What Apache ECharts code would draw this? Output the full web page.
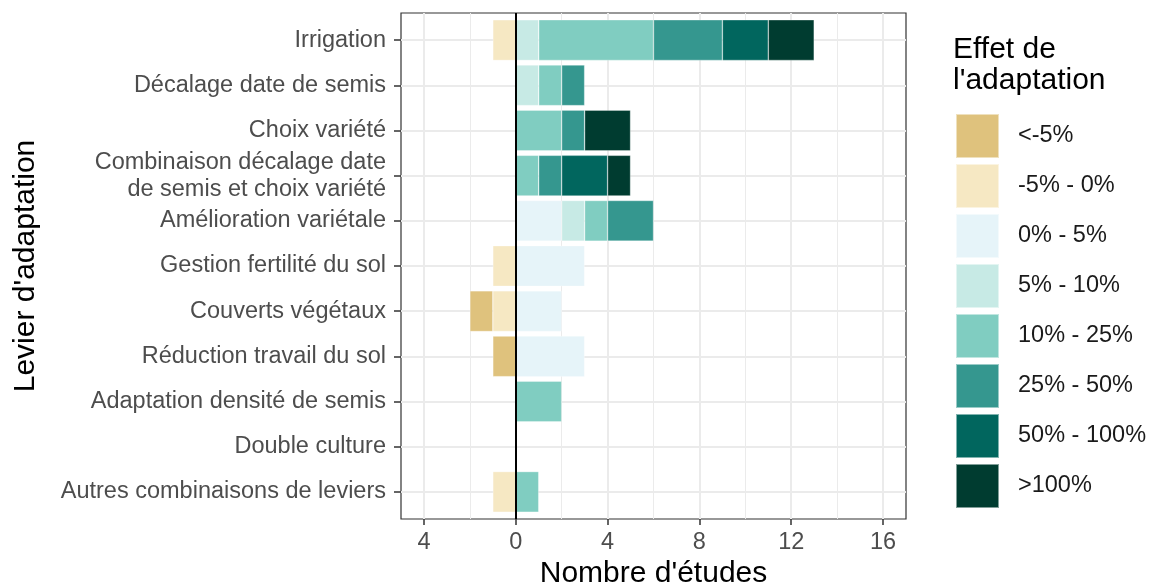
<!DOCTYPE html>
<html>
<head>
<meta charset="utf-8">
<title>Levier d'adaptation</title>
<script src="https://cdn.jsdelivr.net/npm/echarts@6.0.0/dist/echarts.min.js"></script>
<style>
  html, body { margin: 0; padding: 0; background: #fff; }
  #chart { width: 1151px; height: 586px; }
</style>
</head>
<body>
<div id="chart"></div>
<script>
// categories (top to bottom)
const categories = [
  'Irrigation',
  'Décalage date de semis',
  'Choix variété',
  'Combinaison décalage date\nde semis et choix variété',
  'Amélioration variétale',
  'Gestion fertilité du sol',
  'Couverts végétaux',
  'Réduction travail du sol',
  'Adaptation densité de semis',
  'Double culture',
  'Autres combinaisons de leviers'
];

// nombre d'études par classe d'effet (négatif = à gauche de 0)
const effLtMinus5 = [0, 0, 0, 0, 0, 0, -1, -1, 0, 0, 0];
const effMinus5to0 = [-1, 0, 0, 0, 0, -1, -1, 0, 0, 0, -1];
const eff0to5 = [0, 0, 0, 0, 2, 3, 2, 3, 0, 0, 0];
const eff5to10 = [1, 1, 0, 0, 1, 0, 0, 0, 0, 0, 0];
const eff10to25 = [5, 1, 2, 1, 1, 0, 0, 0, 2, 0, 1];
const eff25to50 = [3, 1, 1, 1, 2, 0, 0, 0, 0, 0, 0];
const eff50to100 = [2, 0, 0, 2, 0, 0, 0, 0, 0, 0, 0];
const effGt100 = [2, 0, 2, 1, 0, 0, 0, 0, 0, 0, 0];

const legendLabels = ['<-5%', '-5% - 0%', '0% - 5%', '5% - 10%', '10% - 25%', '25% - 50%', '50% - 100%', '>100%'];
const legendColors = ['#dfc27d', '#f6e8c3', '#e6f4f9', '#c7eae5', '#80cdc1', '#35978f', '#01665e', '#003c30'];

const xTicks = [-4, 0, 4, 8, 12, 16];
const xGrid = [-4, -2, 0, 2, 4, 6, 8, 10, 12, 14, 16];

const FONT = '"Liberation Sans", Arial, sans-serif';

// panel geometry (ggplot style: 0.6 category expansion on each side)
const PANEL_LEFT = 401, PANEL_RIGHT = 906, PANEL_TOP = 13, PANEL_BOTTOM = 519;
const unit = (PANEL_BOTTOM - PANEL_TOP) / (categories.length - 1 + 1.2);
const mainTop = PANEL_TOP + 0.1 * unit;
const mainHeight = categories.length * unit;

function clean(arr) {
  return arr.map(v => (v === 0 ? '-' : v));
}

// stacking order: closest to zero first
const seriesDefs = [
  { name: '-5% - 0%', values: effMinus5to0, color: legendColors[1] },
  { name: '<-5%', values: effLtMinus5, color: legendColors[0] },
  { name: '0% - 5%', values: eff0to5, color: legendColors[2] },
  { name: '5% - 10%', values: eff5to10, color: legendColors[3] },
  { name: '10% - 25%', values: eff10to25, color: legendColors[4] },
  { name: '25% - 50%', values: eff25to50, color: legendColors[5] },
  { name: '50% - 100%', values: eff50to100, color: legendColors[6] },
  { name: '>100%', values: effGt100, color: legendColors[7] }
];

const barSeries = seriesDefs.map(d => ({
  name: d.name,
  type: 'bar',
  stack: 'total',
  xAxisIndex: 0,
  yAxisIndex: 0,
  barCategoryGap: '10%',
  itemStyle: { color: d.color, borderColor: 'rgba(255,255,255,0.5)', borderWidth: 0.6 },
  data: clean(d.values),
  z: 3
}));

const gridLineData = []
  .concat(xGrid.map(v => ({ xAxis: v, lineStyle: { width: v % 4 === 0 ? 2 : 1 } })))
  .concat(categories.map((c, i) => ({ yAxis: i, lineStyle: { width: 2 } })));

const chart = echarts.init(document.getElementById('chart'), null, { renderer: 'canvas' });

chart.setOption({
  animation: false,
  backgroundColor: '#ffffff',
  title: {
    text: "Effet de\nl'adaptation",
    left: 953,
    top: 34,
    padding: 0,
    textStyle: { fontFamily: FONT, fontSize: 30, fontWeight: 'normal', color: '#000', lineHeight: 31 }
  },
  legend: {
    orient: 'vertical',
    left: 955,
    top: 113,
    padding: 0,
    itemWidth: 43,
    itemHeight: 44,
    itemGap: 4,
    icon: 'rect',
    selectedMode: false,
    data: legendLabels,
    textStyle: { fontFamily: FONT, fontSize: 23.5, color: '#1a1a1a', padding: [0, 0, 0, 14] }
  },
  grid: [
    // bars
    {
      left: PANEL_LEFT, width: PANEL_RIGHT - PANEL_LEFT, top: mainTop, height: mainHeight,
      show: false, containLabel: false, outerBoundsMode: 'none'
    },
    // frame + gridlines
    {
      left: PANEL_LEFT, width: PANEL_RIGHT - PANEL_LEFT, top: PANEL_TOP, height: PANEL_BOTTOM - PANEL_TOP,
      show: true, borderColor: '#333333', borderWidth: 1.2, backgroundColor: 'transparent',
      containLabel: false, outerBoundsMode: 'none'
    }
  ],
  xAxis: [
    {
      gridIndex: 0, type: 'value', min: -5, max: 17,
      axisLine: { show: false, onZero: false }, axisTick: { show: false }, axisLabel: { show: false }, splitLine: { show: false }
    },
    {
      gridIndex: 1, type: 'value', min: -5, max: 17,
      axisLine: { show: false, onZero: false },
      axisTick: { show: true, customValues: xTicks, length: 6, lineStyle: { color: '#333', width: 1.5 } },
      axisLabel: {
        customValues: xTicks, margin: 12,
        fontFamily: FONT, fontSize: 23.5, color: '#4d4d4d',
        formatter: v => String(Math.abs(v))
      },
      splitLine: { show: false },
      name: "Nombre d'études",
      nameLocation: 'middle',
      nameGap: 40,
      nameMoveOverlap: false,
      nameTextStyle: { fontFamily: FONT, fontSize: 30, color: '#000' }
    }
  ],
  yAxis: [
    {
      gridIndex: 0, type: 'category', data: categories, inverse: true,
      axisLine: { show: false, onZero: false },
      axisTick: { show: true, alignWithLabel: true, length: 7, lineStyle: { color: '#333', width: 1.5 } },
      axisLabel: { margin: 15, fontFamily: FONT, fontSize: 23.5, color: '#4d4d4d', lineHeight: 27, align: 'right' },
      splitLine: { show: false },
      name: "Levier d'adaptation",
      nameLocation: 'middle',
      nameRotate: 90,
      nameGap: 360,
      nameMoveOverlap: false,
      nameTextStyle: { fontFamily: FONT, fontSize: 30, color: '#000' }
    },
    {
      gridIndex: 1, type: 'value', min: -0.6, max: categories.length - 1 + 0.6, inverse: true,
      show: false
    }
  ],
  series: [
    {
      name: 'grille',
      type: 'line',
      xAxisIndex: 1,
      yAxisIndex: 1,
      data: [],
      z: 1,
      silent: true,
      markLine: {
        silent: true,
        z: 1,
        symbol: ['none', 'none'],
        label: { show: false },
        lineStyle: { color: '#ebebeb', type: 'solid' },
        data: gridLineData
      }
    }
  ].concat(barSeries).concat([
    {
      name: 'zero',
      type: 'line',
      xAxisIndex: 1,
      yAxisIndex: 1,
      data: [],
      z: 10,
      silent: true,
      markLine: {
        silent: true,
        z: 10,
        symbol: ['none', 'none'],
        label: { show: false },
        lineStyle: { color: '#000', width: 2, type: 'solid' },
        data: [{ xAxis: 0 }]
      }
    }
  ])
});
</script>
</body>
</html>
